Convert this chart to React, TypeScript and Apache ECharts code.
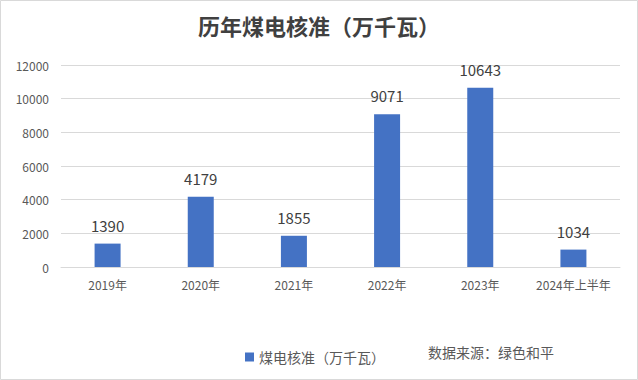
import React, { useEffect, useRef } from "react";
import * as echarts from "echarts";

const categories = ["2019年", "2020年", "2021年", "2022年", "2023年", "2024年上半年"];
const values = [1390, 4179, 1855, 9071, 10643, 1034];
const seriesName = "煤电核准（万千瓦）";
const titleText = "历年煤电核准（万千瓦）";
const sourceText = "数据来源：绿色和平";

export default function App() {
  const ref = useRef<HTMLDivElement>(null);
  useEffect(() => {
    if (!ref.current) return;
    const chart = echarts.init(ref.current, null, { renderer: "svg" });
    chart.setOption({
      animation: false,
      backgroundColor: "#ffffff",
      title: {
        text: titleText,
        left: "center",
        top: 9,
        textStyle: {
          fontFamily: "Noto Sans CJK SC",
          fontSize: 22,
          fontWeight: "bold",
          color: "#404040",
        },
      },
      grid: { left: 61, right: 18, top: 65, bottom: 113 },
      legend: {
        data: [seriesName],
        left: 240,
        top: 345,
        icon: "rect",
        itemWidth: 9,
        itemHeight: 9,
        itemGap: 5,
        textStyle: { fontFamily: "Noto Sans CJK SC", fontSize: 14, color: "#595959" },
      },
      graphic: [
        {
          type: "rect",
          shape: { x: 0.5, y: 0.5, width: 637, height: 379 },
          style: { fill: "none", stroke: "#d9d9d9", lineWidth: 1 },
          silent: true,
        },
        {
          type: "text",
          left: 428,
          top: 345,
          style: {
            text: sourceText,
            fontFamily: "Noto Sans CJK SC",
            fontSize: 14,
            fill: "#595959",
          },
        },
      ],
      xAxis: {
        type: "category",
        data: categories,
        axisLine: { lineStyle: { color: "#d9d9d9" } },
        axisTick: { show: false },
        axisLabel: {
          interval: 0,
          fontFamily: "Noto Sans CJK SC",
          fontSize: 12,
          color: "#595959",
          margin: 11,
        },
      },
      yAxis: {
        type: "value",
        min: 0,
        max: 12000,
        interval: 2000,
        axisLine: { show: false },
        axisTick: { show: false },
        splitLine: { lineStyle: { color: "#d9d9d9" } },
        axisLabel: {
          formatter: (v: number) => String(v),
          fontFamily: "Noto Sans CJK SC",
          fontSize: 12,
          color: "#595959",
          margin: 12,
        },
      },
      series: [
        {
          name: seriesName,
          type: "bar",
          data: values,
          barWidth: 26,
          itemStyle: { color: "#4472C4" },
          label: {
            show: true,
            position: "top",
            distance: 11,
            fontFamily: "Noto Sans CJK SC",
            fontSize: 15,
            color: "#404040",
          },
        },
      ],
    });
    return () => chart.dispose();
  }, []);
  return (
    <div
      ref={ref}
      style={{ position: "fixed", left: 0, top: 0, width: 638, height: 380 }}
    />
  );
}
